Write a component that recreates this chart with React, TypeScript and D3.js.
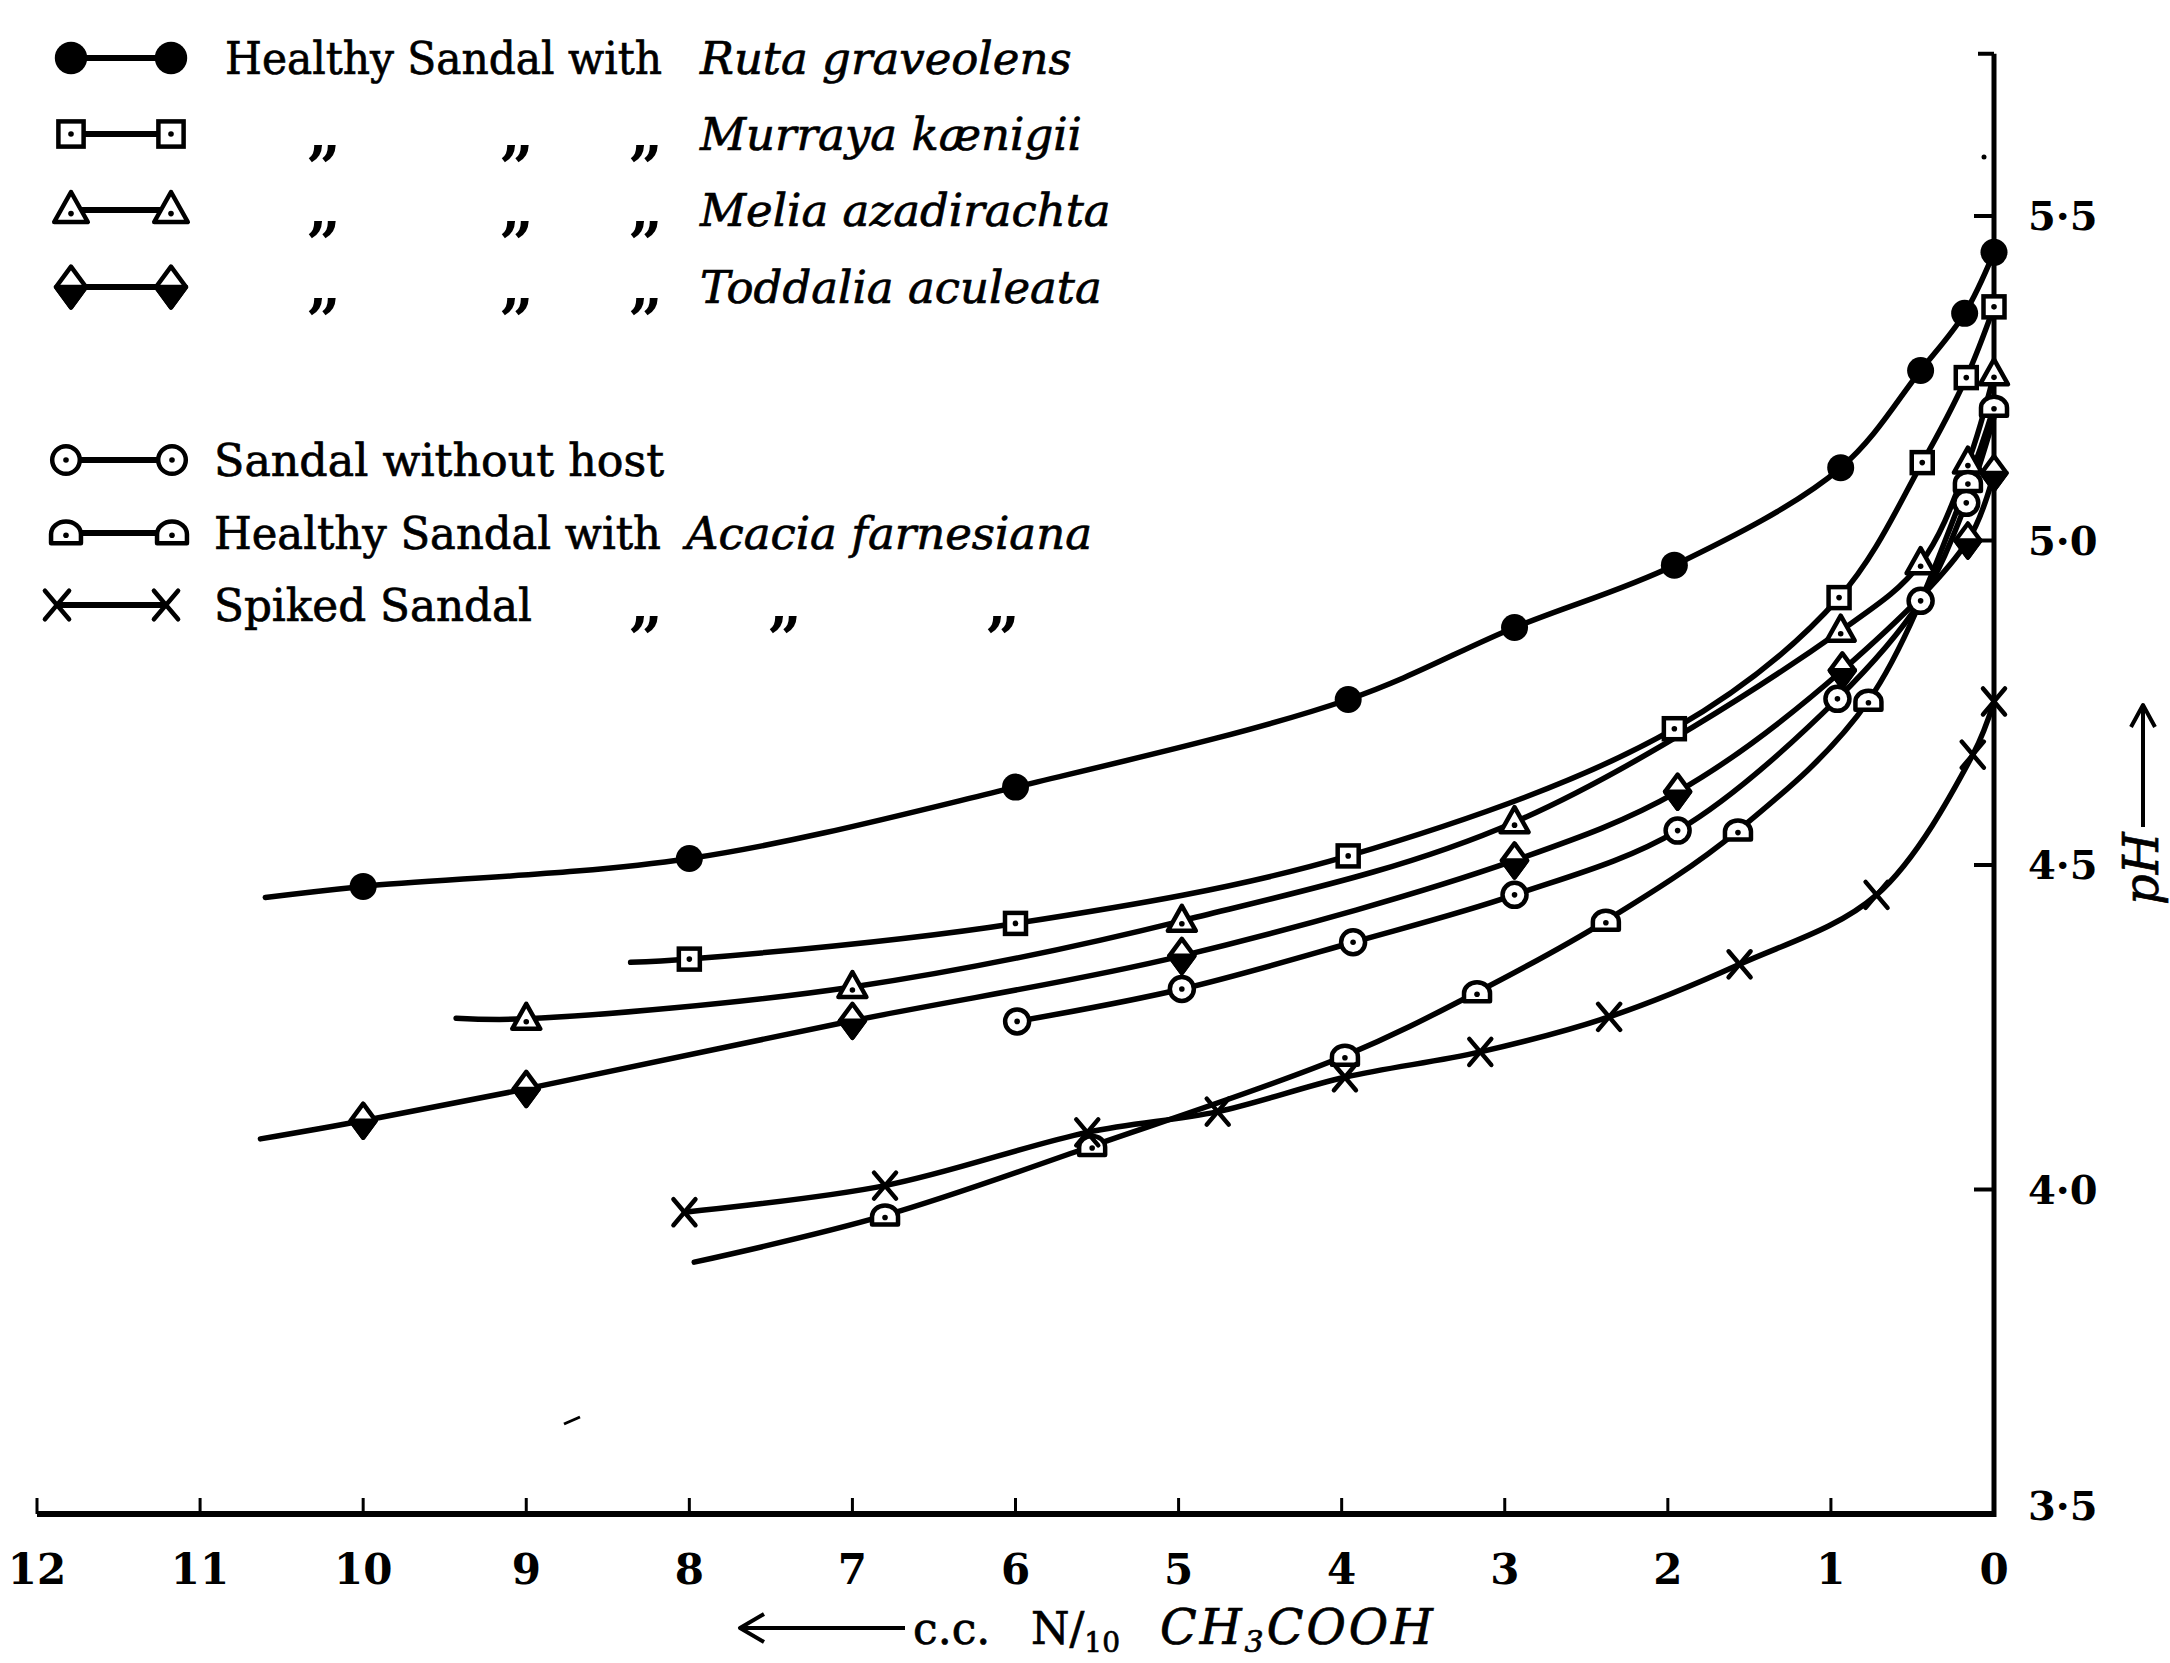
import React from 'react';
import * as d3 from 'd3';

const W = 2170;
const H = 1663;

// x: c.c. N/10 CH3COOH (axis runs 12 -> 0, right to left reversed)
const xTicks = [12, 11, 10, 9, 8, 7, 6, 5, 4, 3, 2, 1, 0];
const yTicks = [3.5, 4.0, 4.5, 5.0, 5.5];
const yTickLabels = ['3·5', '4·0', '4·5', '5·0', '5·5'];

// [c.c. acid, pH, (0 = curve point without plotted symbol)]
const ruta = [[10.6, 4.45, 0], [10, 4.467], [8, 4.51], [6, 4.62], [3.96, 4.755], [2.94, 4.866], [1.96, 4.962], [0.94, 5.112], [0.45, 5.262], [0.18, 5.35], [0, 5.444]];
const murraya = [[8.36, 4.35, 0], [8, 4.355], [6, 4.41], [3.96, 4.514], [1.96, 4.71], [0.95, 4.912], [0.44, 5.12], [0.17, 5.251], [0, 5.36]];
const melia = [[9.43, 4.264, 0], [9, 4.263], [7, 4.312], [4.98, 4.414], [2.94, 4.566], [0.94, 4.861], [0.45, 4.965], [0.16, 5.12], [0, 5.256]];
const toddalia = [[10.63, 4.078, 0], [10, 4.106], [9, 4.155], [7, 4.26], [4.98, 4.36], [2.94, 4.507], [1.94, 4.613], [0.93, 4.8], [0.16, 5.0], [0, 5.104]];
const noHost = [[5.99, 4.259], [4.98, 4.309], [3.93, 4.381], [2.94, 4.454], [1.94, 4.553], [0.96, 4.756], [0.45, 4.907], [0.17, 5.058], [0, 5.19, 0]];
const acacia = [[7.97, 3.888, 0], [6.8, 3.96], [5.53, 4.067], [3.98, 4.206], [3.17, 4.304], [2.38, 4.414], [1.57, 4.553], [0.77, 4.753], [0.16, 5.09], [0, 5.206]];
const spiked = [[8.03, 3.965], [6.8, 4.006], [5.56, 4.088], [4.76, 4.12], [3.98, 4.173], [3.15, 4.212], [2.36, 4.266], [1.56, 4.347], [0.72, 4.454], [0.13, 4.67], [0, 4.752]];

const seriesList = [
  { data: ruta, kind: 'filled' },
  { data: murraya, kind: 'square' },
  { data: melia, kind: 'triangle' },
  { data: toddalia, kind: 'diamond' },
  { data: noHost, kind: 'ring' },
  { data: acacia, kind: 'dome' },
  { data: spiked, kind: 'cross' },
];

const FONT = '"DejaVu Serif", "Liberation Serif", serif';

function Marker({ kind, x, y, s = 1 }: { kind: string; x: number; y: number; s?: number }) {
  const sw = 4.5;
  switch (kind) {
    case 'filled':
      return <circle cx={x} cy={y} r={13.5 * s} fill="#000" />;
    case 'square':
      return (
        <g>
          <rect x={x - 10.5 * s} y={y - 10.5 * s} width={21 * s} height={21 * s} fill="#fff" stroke="#000" strokeWidth={sw} />
          <circle cx={x} cy={y} r={2.8} fill="#000" />
        </g>
      );
    case 'triangle':
      return (
        <g>
          <path d={`M${x},${y - 15 * s}L${x + 14 * s},${y + 10 * s}L${x - 14 * s},${y + 10 * s}Z`} fill="#fff" stroke="#000" strokeWidth={sw} strokeLinejoin="round" />
          <circle cx={x} cy={y + 3 * s} r={2.8} fill="#000" />
        </g>
      );
    case 'diamond':
      return (
        <g>
          <path d={`M${x},${y - 17 * s}L${x + 12.5 * s},${y}L${x},${y + 17 * s}L${x - 12.5 * s},${y}Z`} fill="#fff" stroke="#000" strokeWidth={sw} strokeLinejoin="round" />
          <path d={`M${x - 12.5 * s},${y}L${x + 12.5 * s},${y}L${x},${y + 17 * s}Z`} fill="#000" stroke="#000" strokeWidth={sw} strokeLinejoin="round" />
        </g>
      );
    case 'ring':
      return (
        <g>
          <circle cx={x} cy={y} r={12 * s} fill="#fff" stroke="#000" strokeWidth={sw} />
          <circle cx={x} cy={y} r={2.8} fill="#000" />
        </g>
      );
    case 'dome':
      return (
        <g>
          <path d={`M${x - 13 * s},${y + 9 * s}L${x - 13 * s},${y + 1 * s}A${13 * s},${11 * s} 0 0,1 ${x + 13 * s},${y + 1 * s}L${x + 13 * s},${y + 9 * s}Z`} fill="#fff" stroke="#000" strokeWidth={sw} strokeLinejoin="round" />
          <circle cx={x} cy={y + 2 * s} r={2.8} fill="#000" />
        </g>
      );
    case 'cross':
      return (
        <g stroke="#000" strokeWidth={4.5} strokeLinecap="round">
          <line x1={x - 11 * s} y1={y - 13 * s} x2={x + 11 * s} y2={y + 13 * s} />
          <line x1={x - 11 * s} y1={y + 13 * s} x2={x + 11 * s} y2={y - 13 * s} />
        </g>
      );
    default:
      return null;
  }
}

const legendTop = [
  { kind: 'filled', y: 58, lead: 'Healthy Sandal with', italic: 'Ruta graveolens', ditto: false },
  { kind: 'square', y: 134, lead: '', italic: 'Murraya kænigii', ditto: true },
  { kind: 'triangle', y: 210, lead: '', italic: 'Melia azadirachta', ditto: true },
  { kind: 'diamond', y: 287, lead: '', italic: 'Toddalia aculeata', ditto: true },
];

export default function App() {
  const x = d3.scaleLinear().domain([0, 12]).range([1994, 37]);
  const y = d3.scaleLinear().domain([3.5, 5.5]).range([1514, 216]);
  const yTop = y(5.75);

  const line = d3
    .line<number[]>()
    .x((d) => x(d[0]))
    .y((d) => y(d[1]))
    .curve(d3.curveCatmullRom.alpha(0.5));

  const textStyle: React.CSSProperties = { fontFamily: FONT };
  const ink = { stroke: '#000', strokeWidth: 0.7 };

  return (
    <svg width={W} height={H} viewBox={`0 0 ${W} ${H}`} style={{ position: 'absolute', left: 0, top: 0, background: '#fff' }}>
      <rect x={0} y={0} width={W} height={H} fill="#fff" />

      {/* axes */}
      <g stroke="#000" fill="none">
        <line x1={x(0)} y1={yTop} x2={x(0)} y2={y(3.5) + 3} strokeWidth={5} />
        <line x1={x(12)} y1={y(3.5)} x2={x(0) + 2} y2={y(3.5)} strokeWidth={6} />
        {xTicks.map((t) => (
          <line key={t} x1={x(t)} y1={y(3.5)} x2={x(t)} y2={y(3.5) - 16} strokeWidth={3} />
        ))}
        {yTicks.slice(1).map((t) => (
          <line key={t} x1={x(0)} y1={y(t)} x2={x(0) - (t === 5.0 ? 28 : 20)} y2={y(t)} strokeWidth={4} />
        ))}
        <line x1={x(0)} y1={yTop} x2={x(0) - 16} y2={yTop} strokeWidth={4} />
      </g>
      {/* small stray marks present in the original print */}
      <circle cx={1984} cy={157} r={2.5} fill="#000" />
      <path d="M564,1424L580,1417" stroke="#000" strokeWidth={3} />

      {/* x tick labels */}
      {xTicks.map((t) => (
        <text key={t} x={x(t)} y={1584} textAnchor="middle" fontSize={42} fontWeight="bold" style={textStyle}>
          {t}
        </text>
      ))}
      {/* y tick labels */}
      {yTicks.map((t, i) => (
        <text key={t} x={2028} y={(t === 3.5 ? y(t) - 8 : y(t)) + 14} fontSize={40} fontWeight="bold" style={textStyle}>
          {yTickLabels[i]}
        </text>
      ))}

      {/* curves */}
      {seriesList.map((s, i) => (
        <path key={i} d={line(s.data) || ''} fill="none" stroke="#000" strokeWidth={5.5} strokeLinejoin="round" strokeLinecap="round" />
      ))}
      {/* markers */}
      {seriesList.map((s, i) =>
        s.data
          .filter((d) => d[2] !== 0)
          .map((d, j) => <Marker key={`${i}-${j}`} kind={s.kind} x={x(d[0])} y={y(d[1])} />)
      )}

      {/* legend */}
      {legendTop.map((r) => (
        <g key={r.kind}>
          <line x1={71} y1={r.y} x2={171} y2={r.y} stroke="#000" strokeWidth={6} />
          <Marker kind={r.kind} x={71} y={r.y} s={1.2} />
          <Marker kind={r.kind} x={171} y={r.y} s={1.2} />
          {r.lead ? (
            <text x={225} y={r.y + 16} fontSize={45} textLength={437} lengthAdjust="spacingAndGlyphs" style={textStyle} {...ink}>
              {r.lead}
            </text>
          ) : null}
          {r.ditto
            ? [307, 500, 629].map((dx) => (
                <text key={dx} x={dx} y={r.y + 20} fontSize={60} fontWeight="bold" style={textStyle}>
                  „
                </text>
              ))
            : null}
          <text x={700} y={r.y + 16} fontSize={45} fontStyle="italic" style={textStyle} {...ink}>
            {r.italic}
          </text>
        </g>
      ))}

      <g>
        <line x1={66} y1={460} x2={172} y2={460} stroke="#000" strokeWidth={6} />
        <Marker kind="ring" x={66} y={460} s={1.15} />
        <Marker kind="ring" x={172} y={460} s={1.15} />
        <text x={214} y={476} fontSize={45} textLength={450} lengthAdjust="spacingAndGlyphs" style={textStyle} {...ink}>
          Sandal without host
        </text>

        <line x1={66} y1={533} x2={172} y2={533} stroke="#000" strokeWidth={6} />
        <Marker kind="dome" x={66} y={533} s={1.15} />
        <Marker kind="dome" x={172} y={533} s={1.15} />
        <text x={214} y={549} fontSize={45} textLength={447} lengthAdjust="spacingAndGlyphs" style={textStyle} {...ink}>
          Healthy Sandal with
        </text>
        <text x={686} y={549} fontSize={45} fontStyle="italic" style={textStyle} {...ink}>
          Acacia farnesiana
        </text>

        <line x1={57} y1={605} x2={166} y2={605} stroke="#000" strokeWidth={6} />
        <Marker kind="cross" x={57} y={605} s={1.1} />
        <Marker kind="cross" x={166} y={605} s={1.1} />
        <text x={214} y={621} fontSize={45} textLength={318} lengthAdjust="spacingAndGlyphs" style={textStyle} {...ink}>
          Spiked Sandal
        </text>
        {[629, 768, 986].map((dx) => (
          <text key={dx} x={dx} y={625} fontSize={60} fontWeight="bold" style={textStyle}>
            „
          </text>
        ))}
      </g>

      {/* x-axis title */}
      <g>
        <path d="M905,1628L742,1628" stroke="#000" strokeWidth={4} fill="none" />
        <path d="M764,1614L740,1628L764,1642" stroke="#000" strokeWidth={4} fill="none" strokeLinejoin="round" />
        <text x={913} y={1644} fontSize={44} style={textStyle} {...ink}>
          c.c.
        </text>
        <text x={1031} y={1644} fontSize={44} style={textStyle} {...ink}>
          N<tspan>/</tspan>
          <tspan fontSize={28} dy={8}>10</tspan>
        </text>
        <text x={1160} y={1644} fontSize={48} fontStyle="italic" letterSpacing={3} style={textStyle} {...ink}>
          CH<tspan fontSize={30} dy={8}>3</tspan>
          <tspan dy={-8}>COOH</tspan>
        </text>
      </g>

      {/* y-axis title: pH -> (rotated) */}
      <g transform="translate(2143,805) rotate(-90)">
        <text x={-100} y={15} fontSize={48} fontStyle="italic" style={textStyle} {...ink}>
          pH
        </text>
        <path d="M-22,0L98,0" stroke="#000" strokeWidth={4} fill="none" />
        <path d="M78,-12L100,0L78,12" stroke="#000" strokeWidth={4} fill="none" strokeLinejoin="round" />
      </g>
    </svg>
  );
}
